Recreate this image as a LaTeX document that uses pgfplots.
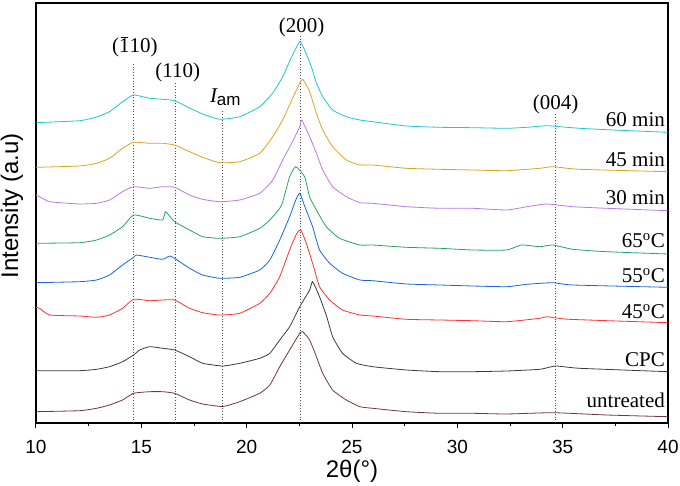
\documentclass[border=0pt]{standalone}
\usepackage{fontspec}
\setmainfont{Liberation Sans}
\newfontfamily\tnr{Liberation Serif}
\usepackage{pgfplots}
\pgfplotsset{compat=1.18}
\definecolor{ccyan}{RGB}{30,200,205}
\definecolor{corange}{RGB}{217,165,32}
\definecolor{cpurple}{RGB}{185,120,230}
\definecolor{cgreen}{RGB}{35,165,95}
\definecolor{cblue}{RGB}{25,100,220}
\definecolor{cred}{RGB}{250,50,50}
\definecolor{cgrey}{RGB}{60,60,60}
\definecolor{cbrown}{RGB}{110,55,60}
\newcommand\lab{\tnr\fontsize{21}{24}\selectfont}
\newcommand\barone{\vbox{\offinterlineskip\hbox to 0.5em{\hss\vrule height 0.05em depth 0pt width 0.32em\hss}\kern0.05em\hbox{1}}}
\begin{document}
\begin{tikzpicture}
\begin{axis}[
  name=ax,
  scale only axis, width=632pt, height=420pt,
  xmin=10, xmax=40, ymin=0, ymax=420,
  xtick={10,15,...,40}, minor x tick num=1,
  ytick=\empty,
  tick align=outside, xtick pos=bottom,
  major tick length=5pt, minor tick length=3.5pt,
  axis line style={line width=1.1pt},
  every tick/.style={line width=1pt, black},
  /pgf/number format/assume math mode=true,
  xticklabel style={font=\fontsize{19}{22}\selectfont, inner sep=0pt, anchor=north, yshift=-12pt},
  xlabel={2θ(°)}, ylabel={Intensity (a.u)},
  xlabel style={font=\fontsize{24}{28}\selectfont, inner sep=0pt, at={(axis description cs:0.5,-0.116)}, anchor=center},
  ylabel style={font=\fontsize{24}{28}\selectfont, inner sep=0pt, at={(axis description cs:-0.038,0.517)}, anchor=center},
  every axis plot/.append style={line width=0.8pt, smooth, tension=0.3},
]
% peak marker lines
\addplot [dotted, line width=0.7pt, gray!60!black, sharp plot] coordinates {(14.63,0) (14.63,361)};
\addplot [dotted, line width=0.7pt, gray!60!black, sharp plot] coordinates {(16.60,0) (16.60,340)};
\addplot [dotted, line width=0.7pt, gray!60!black, sharp plot] coordinates {(18.85,0) (18.85,313)};
\addplot [dotted, line width=0.7pt, gray!60!black, sharp plot] coordinates {(22.55,0) (22.55,388)};
\addplot [dotted, line width=0.7pt, gray!60!black, sharp plot] coordinates {(34.67,0) (34.67,310)};
% untreated
\addplot [cbrown] coordinates {(10,11.3) (12.07,12.3) (12.88,14.7) (13.49,18) (14.11,23) (14.63,29.7) (15.40,31.3) (16.01,31.3) (16.58,29.7) (17.29,23) (17.91,19) (18.86,16.5) (19.67,21.3) (20.62,29.7) (21.10,38) (21.57,56.3) (22.04,73) (22.52,89.7) (22.66,91.3) (22.99,83) (23.31,66.3) (23.61,49.7) (24.08,33) (24.73,23) (25.37,16.3) (25.98,14.7) (27.58,11.3) (29.16,9.7) (30.72,9.7) (32.34,9) (34.53,10.3) (37.08,8) (40,6.3)};
% CPC
\addplot [cgrey] coordinates {(10,52.3) (12.07,52.3) (12.88,53.7) (13.49,56.3) (14.11,61.3) (14.63,68) (14.92,73) (15.40,76.3) (16.01,74.7) (16.58,73) (17.29,66.3) (17.91,59.7) (18.86,57) (19.67,59.7) (20.62,64.7) (21.10,69.7) (21.57,83) (22.04,96.3) (22.52,116.3) (22.99,133) (23.13,141.3) (23.46,126.3) (23.80,106.3) (24.08,86.3) (24.55,69.7) (25.21,59.7) (25.98,56.3) (27.58,53) (29.16,51.3) (30.72,51.3) (32.34,52) (33.92,53.7) (34.67,57) (35.81,54.7) (40,51.3)};
% 45 C
\addplot [cred] coordinates {(10,115.7) (10.17,114.7) (10.65,108) (12.07,107) (12.88,105.7) (13.49,108) (14.11,114.7) (14.63,123.7) (15.40,122.3) (16.01,123) (16.58,123) (17.29,114.7) (17.91,110.3) (18.72,108) (19.67,109.7) (20.62,119.7) (21.10,129.7) (21.57,146.3) (22.04,173) (22.38,189.7) (22.57,193) (22.83,179.7) (23.13,159.7) (23.46,136.3) (23.94,123) (24.55,113) (25.37,108) (25.98,107) (27.58,103.7) (29.16,103) (30.72,102.3) (32.34,101.3) (33.92,104.7) (34.25,106.3) (35.3,103.7) (40,100.3)};
% 55 C
\addplot [cblue] coordinates {(10,140.3) (12.07,141.3) (12.88,143) (13.49,148) (14.11,158) (14.63,165.7) (14.78,168) (15.40,165.7) (16.01,163.7) (16.34,167) (16.58,164.7) (17.29,154.7) (17.91,148) (18.72,144.7) (19.67,145.7) (20.62,153) (21.10,163) (21.57,183) (22.04,206.3) (22.33,223) (22.52,229.7) (22.75,217) (23.13,196.3) (23.46,173) (23.94,159.7) (24.55,149.7) (25.37,143) (25.98,142.3) (27.58,139) (29.16,138) (30.72,137) (32.34,136.3) (33.30,138.7) (34.53,140.3) (35.48,138) (40,135.7)};
% 65 C
\addplot [cgreen] coordinates {(10,179.7) (12.07,180.3) (12.88,183) (13.49,188) (14.11,196.3) (14.63,208) (15.40,204.7) (16.01,203) (16.15,211.3) (16.58,201.3) (17.29,193) (17.91,186.3) (18.72,184.7) (19.67,186.3) (20.62,194.7) (21.10,203) (21.57,214.7) (21.71,221) (22.04,246.3) (22.33,256.3) (22.75,246.3) (22.99,226) (23.31,213) (23.78,196.3) (24.41,184.7) (25.37,178) (25.98,178) (27.58,175.7) (29.16,174.7) (30.72,173) (32.34,173) (33.04,178) (33.92,176.3) (34.53,178) (35.48,173.7) (37.08,171.3) (40,169)};
% 30 min
\addplot [cpurple] coordinates {(10,228) (10.17,226.3) (10.65,221.3) (12.07,219) (12.88,219.7) (13.49,223) (14.11,231.3) (14.63,236.3) (15.40,234.7) (16.01,236.3) (16.58,235.7) (17.29,228) (17.91,223.7) (18.72,221.3) (19.67,223) (20.62,229.7) (21.24,243) (21.71,263) (22.14,279.7) (22.52,296.3) (22.61,303) (22.99,286.3) (23.31,269.7) (23.61,253) (24.08,236.3) (24.73,226.3) (25.37,220.3) (25.98,219.7) (27.58,216.3) (29.16,214.7) (30.72,214.7) (32.34,213) (33.30,216.3) (34.25,219) (35.48,216.3) (37.08,214.7) (40,212.3)};
% 45 min
\addplot [corange] coordinates {(10,255.7) (12.07,257) (12.88,259.7) (13.49,264.7) (14.11,274.7) (14.63,280.7) (15.40,279.7) (16.01,279.7) (16.58,278) (17.29,271.3) (17.91,265.7) (18.72,260.3) (19.67,261.3) (20.62,269.7) (21.24,286.3) (21.71,303) (22.14,323) (22.52,339.7) (22.66,343.7) (22.99,331.3) (23.31,309.7) (23.61,293) (24.08,276.3) (24.73,263) (25.37,258) (25.98,258) (27.58,254.7) (29.16,253.7) (30.72,253) (32.34,252.3) (33.92,254.7) (34.53,256.3) (35.81,253.7) (40,251.3)};
% 60 min
\addplot [ccyan] coordinates {(10,300.3) (12.07,302.3) (12.88,306) (13.49,311.3) (14.11,321.3) (14.63,328) (15.40,324.7) (16.01,323.7) (16.58,322.3) (17.29,315) (17.91,309) (18.72,303.7) (19.67,306.3) (20.62,316.3) (21.24,330) (21.71,346.3) (22.14,366.3) (22.52,381.3) (22.75,373) (23.07,356.3) (23.31,340) (23.61,326.3) (24.08,313) (24.73,306.3) (25.37,303) (25.98,301.3) (27.58,297) (29.16,295.7) (30.72,295.3) (32.34,294.7) (33.30,295.7) (34.25,297.3) (34.86,296.3) (35.81,294.7) (37.38,293) (40,290.7)};
% peak labels
\node [anchor=base] at (axis cs:14.69,370) {\lab(\barone10)};
\node [anchor=base] at (axis cs:16.73,345) {\lab(110)};
\node [anchor=base west, inner sep=0pt] at (axis cs:18.25,320) {{\lab\itshape I}\raisebox{-0.3em}{\fontsize{17}{20}\selectfont am}};
\node [anchor=base] at (axis cs:22.61,390) {\lab(200)};
\node [anchor=base] at (axis cs:34.67,313) {\lab(004)};
% sample labels
\node [anchor=base east, inner sep=0pt] at (axis cs:39.86,296) {\lab 60 min};
\node [anchor=base east, inner sep=0pt] at (axis cs:39.86,256) {\lab 45 min};
\node [anchor=base east, inner sep=0pt] at (axis cs:39.86,218) {\lab 30 min};
\node [anchor=base east, inner sep=0pt] at (axis cs:39.86,175) {\lab 65\textsuperscript{o}C};
\node [anchor=base east, inner sep=0pt] at (axis cs:39.86,140) {\lab 55\textsuperscript{o}C};
\node [anchor=base east, inner sep=0pt] at (axis cs:39.86,104) {\lab 45\textsuperscript{o}C};
\node [anchor=base east, inner sep=0pt] at (axis cs:39.86,56) {\lab CPC};
\node [anchor=base east, inner sep=0pt] at (axis cs:39.86,15) {\lab untreated};
\end{axis}
\pgfresetboundingbox
\path ([xshift=-36pt,yshift=-63pt]ax.south west) rectangle ([xshift=12pt,yshift=3pt]ax.north east);
\end{tikzpicture}
\end{document}
